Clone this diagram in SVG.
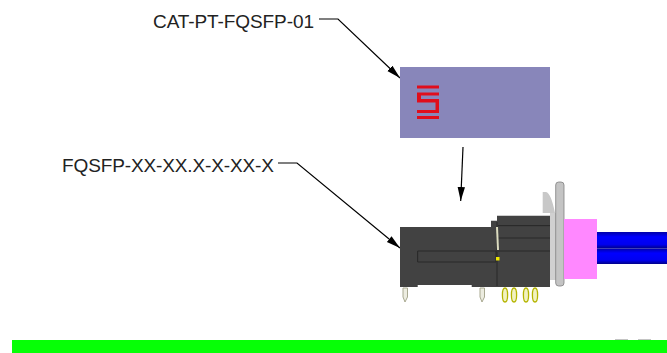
<svg xmlns="http://www.w3.org/2000/svg" width="667" height="353" viewBox="0 0 667 353">
<defs>
<marker id="ah" markerUnits="userSpaceOnUse" markerWidth="15" markerHeight="9" refX="14" refY="4" orient="auto"><path d="M0 0.300L14 4L0 7.700Z" fill="#000"/></marker>
<linearGradient id="blue" x1="0" y1="0" x2="0" y2="1"><stop offset="0" stop-color="#0000a8"/><stop offset=".3" stop-color="#0000ff"/><stop offset=".75" stop-color="#0000f0"/><stop offset="1" stop-color="#000088"/></linearGradient>
<filter id="soft" x="-5%" y="-5%" width="110%" height="110%"><feGaussianBlur stdDeviation=".45"/></filter>
</defs>
<style>
text{font-family:"Liberation Sans",Arial,sans-serif;font-size:19px;fill:#222}
.c{fill:none;stroke:#000;stroke-width:1.2}
.l{stroke:#262626;stroke-width:1;fill:none}
.g{fill:#424242}
.p{fill:#ecece0;stroke:#a8a890;stroke-width:1}
.y{fill:#f2f2c0;stroke:#b4b400;stroke-width:1.300}
.r{fill:#e0101c}
</style>
<rect id="band" x="12" y="340" width="655" height="13" fill="#06ff06"/>
<g id="connectors">
<path class="c" d="M319 19H338L400 78" marker-end="url(#ah)"/>
<path class="c" d="M278 163H297L400 248" marker-end="url(#ah)"/>
<path class="c" d="M463 147L460.700 201" marker-end="url(#ah)"/>
</g>
<g id="label-cat"><text x="153" y="28" textLength="161">CAT-PT-FQSFP-01</text></g>
<g id="label-fqsfp"><text x="62" y="172" textLength="212">FQSFP-XX-XX.X-X-XX-X</text></g>
<g id="cover" filter="url(#soft)">
<rect x="400" y="67" width="150" height="71" fill="#8886ba"/>
<rect class="r" x="417" y="85.500" width="22" height="3"/>
<path class="r" d="M417 92.500H439V95.500H421V99H439V113H417V110H435.500V102.500H417Z"/>
<rect class="r" x="417" y="116" width="22" height="3"/>
</g>
<g id="connector-body" filter="url(#soft)">
<rect x="597" y="232" width="70" height="16.500" fill="url(#blue)"/>
<rect x="597" y="248.500" width="70" height="15.500" fill="url(#blue)"/>
<path d="M542.700 192H546Q551 193 555 213V280H550V213H542.700Z" fill="#c8c8c8"/>
<rect x="550" y="213" width="6" height="67" fill="#d0d0d0"/>
<rect x="555.700" y="182" width="8.300" height="104" rx="3" fill="#c4c4c4" stroke="#808080" stroke-width=".8"/>
<rect x="564" y="219" width="33" height="60" fill="#ff88ff"/>
<path class="g" d="M400 227H491V220.700H497V215.700H550V287H471.700V285H417.700V287H400Z"/>
<path class="l" d="M417.700 251H496V262H417.700ZM498 225.700H550M498 238H550M498 251H550M497 222V286"/>
<path d="M497 227L498 250" stroke="#dcdcc0" stroke-width="2"/>
<rect x="496" y="257" width="3.500" height="3.500" fill="#f0e800"/>
<path d="M403 288V297L405 302L407.500 297V288Z" class="p"/>
<path d="M480 288V297L482 302L484.500 297V288Z" class="p"/>
<ellipse class="y" cx="505" cy="295" rx="2.600" ry="7"/>
<ellipse class="y" cx="514" cy="295" rx="2.600" ry="7"/>
<ellipse class="y" cx="526" cy="295" rx="2.600" ry="7"/>
<ellipse class="y" cx="535" cy="295" rx="2.600" ry="7"/>
</g>
<g id="specks" fill="#c4c4c4"><rect x="615" y="339" width="13" height="1"/><rect x="638" y="339" width="13" height="1"/></g>
</svg>
